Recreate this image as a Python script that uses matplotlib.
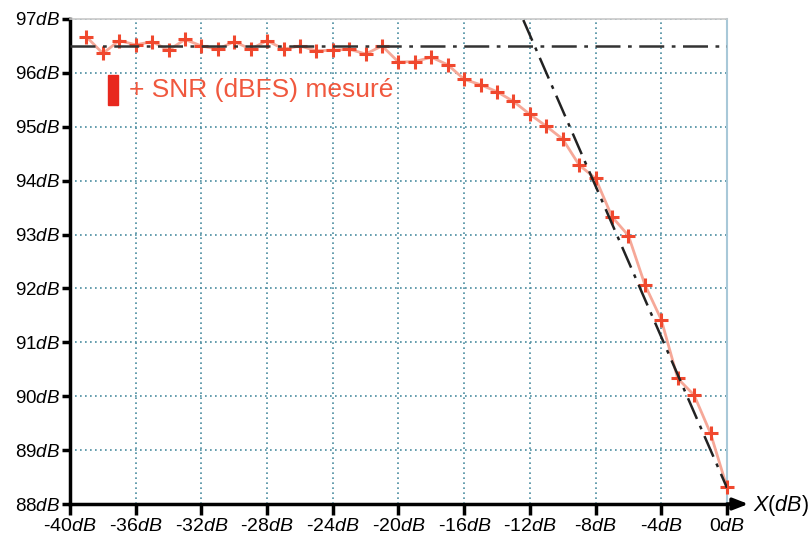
import numpy as np
import matplotlib.pyplot as plt

plt.rcParams['font.family'] = ['Liberation Sans', 'DejaVu Sans']
plt.rcParams['mathtext.fontset'] = 'custom'
plt.rcParams['mathtext.rm'] = 'Liberation Sans'
plt.rcParams['mathtext.it'] = 'Liberation Sans:italic'

# measured SNR (dBFS) vs input level X (dB)
x_db = [-39, -38, -37, -36, -35, -34, -33, -32, -31, -30,
        -29, -28, -27, -26, -25, -24, -23, -22, -21, -20,
        -19, -18, -17, -16, -15, -14, -13, -12, -11, -10,
        -9, -8, -7, -6, -5, -4, -3, -2, -1, 0]
snr = [96.67, 96.36, 96.60, 96.52, 96.58, 96.42, 96.62, 96.50, 96.44, 96.58,
       96.44, 96.60, 96.44, 96.50, 96.41, 96.42, 96.44, 96.35, 96.50, 96.20,
       96.21, 96.29, 96.15, 95.88, 95.78, 95.65, 95.47, 95.23, 95.01, 94.77,
       94.29, 94.04, 93.33, 92.98, 92.07, 91.42, 90.33, 90.02, 89.31, 88.31]

# asymptotes
plateau = 96.5
slope_x = [-12.4, 0]
slope_y = [96.98, 88.3]

xticks = list(range(-40, 1, 4))
yticks = list(range(88, 98))

fig = plt.figure(figsize=(8.12, 5.36), dpi=100)
ax = fig.add_axes([0.0862, 0.0597, 0.8091, 0.9049])

ax.plot(x_db, snr, color='#f6a898', lw=2, zorder=3)
ax.plot(x_db, snr, ls='none', marker='+', ms=10, mew=2.2, color='#f0482e',
        zorder=4, clip_on=False)

ax.plot([-40, 0], [plateau, plateau], color='#333333', lw=1.8,
        dashes=(10, 3, 1.5, 3), zorder=5)
ax.plot(slope_x, slope_y, color='#222222', lw=1.8,
        dashes=(9, 3, 1.5, 3), zorder=5)

ax.set_xlim(-40, 0)
ax.set_ylim(88, 97)
ax.set_xticks(xticks)
ax.set_yticks(yticks)
ax.set_xticklabels([f'{v}$\\it{{dB}}$' for v in xticks], fontsize=14)
ax.set_yticklabels([f'{v}$\\it{{dB}}$' for v in yticks], fontsize=13.5)
ax.tick_params(axis='x', direction='out', length=8, width=2.5, pad=2)
ax.tick_params(axis='y', direction='out', length=6, width=2.5, pad=1)

ax.grid(True, color='#4a8ca0', ls=(0, (1, 2)), lw=1.2)
ax.set_axisbelow(True)

ax.spines['left'].set_linewidth(2.5)
ax.spines['bottom'].set_linewidth(2.5)
ax.spines['top'].set_color('#c8c8c8')
ax.spines['top'].set_linewidth(1.2)
ax.spines['right'].set_color('#a8c8d8')
ax.spines['right'].set_linewidth(1.5)

# arrow on x axis
ax.annotate('', xy=(1.3, 88), xytext=(0, 88), annotation_clip=False,
            arrowprops=dict(arrowstyle='-|>,head_length=0.9,head_width=0.35',
                            color='black', lw=2.5, shrinkA=0, shrinkB=0))
ax.text(1.6, 87.97, '$\\it{X}$($\\it{dB}$)', fontsize=15.5, ha='left',
        va='center', clip_on=False)

# legend
ax.add_patch(plt.Rectangle((-37.68, 95.4), 0.6, 0.56, color='#e8281e',
                           zorder=6, clip_on=False))
ax.text(-36.4, 95.68, '+ SNR (dBFS) mesuré', fontsize=19, color='#f0583e',
        va='center', ha='left', zorder=6)

fig.savefig('out.png', dpi=100)
